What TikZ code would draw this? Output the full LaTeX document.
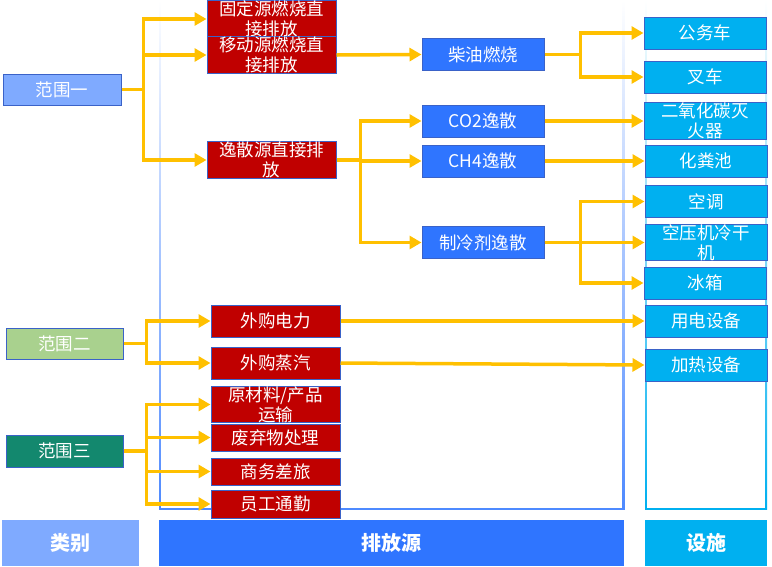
\documentclass[tikz,border=0pt]{standalone}
\usepackage{fontspec}
\setmainfont{Noto Sans CJK SC}
\usepackage{xcolor}
\usepackage{tikz}
\usetikzlibrary{arrows.meta}
\definecolor{scopeone}{HTML}{7FAAFF}
\definecolor{scopetwo}{HTML}{A9D18E}
\definecolor{scopethree}{HTML}{13886E}
\definecolor{srcred}{HTML}{C00000}
\definecolor{emitblue}{HTML}{2F75FF}
\definecolor{faccyan}{HTML}{00B0F0}
\definecolor{boxline}{HTML}{3A62C8}
\definecolor{linkyellow}{HTML}{FFC000}

\begin{document}
\begin{tikzpicture}[x=1pt,y=-1pt,
  box/.style={draw=boxline,line width=1pt,text=white,inner sep=0pt,align=center,
    minimum height=32pt,font=\fontsize{17.5}{20}\selectfont},
  scopebox/.style={box,minimum width=118pt,minimum height=31pt},
  srcbox/.style={box,fill=srcred,minimum width=129pt},
  emitbox/.style={box,fill=emitblue,minimum width=122pt},
  facbox/.style={box,fill=faccyan,minimum width=122pt},
  headbar/.style={text=white,inner sep=0pt,minimum height=46pt,
    font=\fontsize{20}{24}\selectfont\bfseries},
  link/.style={draw=linkyellow,line width=3.5pt,-{Triangle[length=12pt,width=13pt]}}]
\useasboundingbox (0,0) rectangle (772,566);
% column frames
\shade[top color=white,bottom color=emitblue!85] (159,0) rectangle (160.8,509);
\shade[top color=white,bottom color=emitblue!85] (622.7,0) rectangle (624.5,509);
\draw[emitblue!85,line width=1.8pt] (159,509)--(624.5,509);
\shade[top color=white,bottom color=faccyan] (645,0) rectangle (646.8,509);
\shade[top color=white,bottom color=faccyan] (765.2,0) rectangle (767,509);
\draw[faccyan,line width=1.8pt] (645,509)--(767,509);
% scopes
\node[scopebox,fill=scopeone] (r1) at (62,89.5) {范围一};
\node[scopebox,fill=scopetwo,minimum width=117pt] (r2) at (64.5,343.5) {范围二};
\node[scopebox,fill=scopethree,minimum width=117pt,minimum height=32pt] (r3) at (64.5,451) {范围三};
% sources
\node[srcbox] (fixed) at (271.5,19) {固定源燃烧直\\接排放};
\node[srcbox] (mobile) at (271.5,55) {移动源燃烧直\\接排放};
\node[srcbox] (fugit) at (271.5,160) {逸散源直接排\\放};
\node[srcbox] (power) at (275.5,321) {外购电力};
\node[srcbox] (steam) at (275.5,363) {外购蒸汽};
\node[srcbox,minimum height=33pt] (trans) at (275.5,404.5) {原材料/产品\\运输};
\node[srcbox,minimum height=27pt] (waste) at (275.5,437.5) {废弃物处理};
\node[srcbox,minimum height=27pt] (trip) at (275.5,471.5) {商务差旅};
\node[srcbox,minimum height=28pt] (commute) at (275.5,504) {员工通勤};
% emissions
\node[emitbox] (diesel) at (483,54.5) {柴油燃烧};
\node[emitbox] (co2) at (483,121) {CO2逸散};
\node[emitbox] (ch4) at (483,161) {CH4逸散};
\node[emitbox] (refrig) at (483,242.5) {制冷剂逸散};
% facilities
\node[facbox] (car) at (705,33) {公务车};
\node[facbox] (fork) at (705,77) {叉车};
\node[facbox] (ext) at (705,121) {二氧化碳灭\\火器};
\node[facbox] (septic) at (706,161) {化粪池};
\node[facbox] (ac) at (706,201.5) {空调};
\node[facbox] (dryer) at (706,242.5) {空压机冷干\\机};
\node[facbox] (fridge) at (705,283) {冰箱};
\node[facbox] (elec) at (706,321) {用电设备};
\node[facbox] (heat) at (706,365) {加热设备};
% bottom headers
\node[headbar,fill=scopeone,minimum width=137pt] (hcat) at (70.5,543) {类别};
\node[headbar,fill=emitblue,minimum width=465pt] (hsrc) at (391.5,543) {排放源};
\node[headbar,fill=faccyan,minimum width=122pt] (hfac) at (706,543) {设施};
% links
\draw[link] (r1.east) -- ++(22,0) |- (fixed.west);
\draw[link] (r1.east) -- ++(22,0) |- (mobile.west);
\draw[link] (r1.east) -- ++(22,0) |- (fugit.west);
\draw[link] (mobile.east) -- (diesel.west);
\draw[link] (diesel.east) -- ++(36,0) |- (car.west);
\draw[link] (diesel.east) -- ++(36,0) |- (fork.west);
\draw[link] (fugit.east) -- ++(24,0) |- (co2.west);
\draw[link] (fugit.east) -- ++(24,0) |- (ch4.west);
\draw[link] (fugit.east) -- ++(24,0) |- (refrig.west);
\draw[link] (co2.east) -- (ext.west);
\draw[link] (ch4.east) -- (septic.west);
\draw[link] (refrig.east) -- ++(36,0) |- (ac.west);
\draw[link] (refrig.east) -- ++(36,0) |- (dryer.west);
\draw[link] (refrig.east) -- ++(36,0) |- (fridge.west);
\draw[link] (r2.east) -- ++(23,0) |- (power.west);
\draw[link] (r2.east) -- ++(23,0) |- (steam.west);
\draw[link] (power.east) -- (elec.west);
\draw[link] (steam.east) -- (heat.west);
\draw[link] (r3.east) -- ++(23,0) |- (trans.west);
\draw[link] (r3.east) -- ++(23,0) |- (waste.west);
\draw[link] (r3.east) -- ++(23,0) |- (trip.west);
\draw[link] (r3.east) -- ++(23,0) |- (commute.west);
\end{tikzpicture}
\end{document}
